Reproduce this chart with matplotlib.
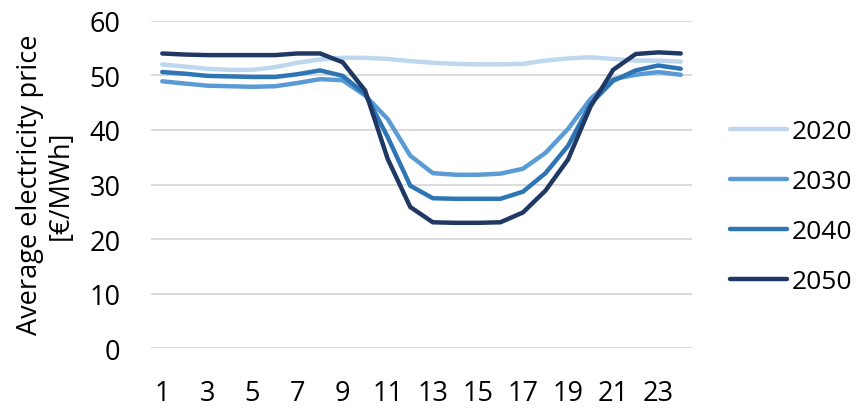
import matplotlib
matplotlib.use("Agg")
import matplotlib.pyplot as plt

plt.rcParams['font.family'] = ['Open Sans', 'DejaVu Sans']

# hours of the day
hours = list(range(1, 25))

# average electricity price per hour [EUR/MWh]
price_2020 = [52.0, 51.6, 51.2, 51.0, 51.0, 51.5, 52.3, 52.9, 53.2, 53.2, 53.0, 52.6,
              52.3, 52.1, 52.0, 52.0, 52.1, 52.7, 53.1, 53.3, 53.0, 52.7, 52.7, 52.5]
price_2030 = [48.9, 48.5, 48.1, 48.0, 47.9, 48.0, 48.6, 49.3, 49.1, 46.3, 42.0, 35.3,
              32.1, 31.8, 31.8, 32.0, 32.9, 35.8, 40.2, 45.7, 49.3, 50.1, 50.6, 50.1]
price_2040 = [50.6, 50.3, 49.9, 49.8, 49.7, 49.7, 50.2, 50.9, 49.9, 46.6, 38.7, 29.8,
              27.5, 27.4, 27.4, 27.4, 28.7, 32.1, 37.1, 44.8, 49.0, 50.9, 51.8, 51.2]
price_2050 = [54.0, 53.8, 53.7, 53.7, 53.7, 53.7, 54.0, 54.0, 52.4, 47.2, 34.7, 25.9,
              23.1, 23.0, 23.0, 23.1, 24.9, 28.9, 34.6, 44.3, 51.0, 53.9, 54.2, 54.0]

series = [("2020", price_2020, "#BDD7EE"),
          ("2030", price_2030, "#5B9BD5"),
          ("2040", price_2040, "#2E75B6"),
          ("2050", price_2050, "#1F3864")]

fig = plt.figure(figsize=(8.57, 4.10), dpi=100)
ax = fig.add_axes([0.1762, 0.1476, 0.6313, 0.7995])

for label, values, color in series:
    ax.plot(hours, values, color=color, lw=3.2, label=label,
            solid_capstyle='round', solid_joinstyle='miter')

ax.set_xlim(0.5, 24.5)
ax.set_ylim(0, 60)
ax.set_yticks(range(0, 61, 10))
ax.set_xticks(hours[::2])
ax.yaxis.grid(True, color='#D9D9D9', lw=1.3)
ax.set_axisbelow(True)
for s in ax.spines.values():
    s.set_visible(False)
ax.tick_params(length=0, labelsize=19.5, colors='#000000')
ax.tick_params(axis='y', pad=22)
ax.tick_params(axis='x', pad=22)

# y axis title, placed by hand like the Excel original
fig.text(0.0530, 0.549, 'Average electricity price\n[€/MWh]', fontsize=19.5,
         rotation=90, ha='center', va='center', multialignment='center',
         linespacing=1.1)

leg = fig.legend(loc='center left', bbox_to_anchor=(0.852, 0.493),
                 frameon=False, fontsize=19, handlelength=2.15,
                 handletextpad=0.2, labelspacing=0.95,
                 borderpad=0, borderaxespad=0)

fig.savefig('out.png', dpi=100)
